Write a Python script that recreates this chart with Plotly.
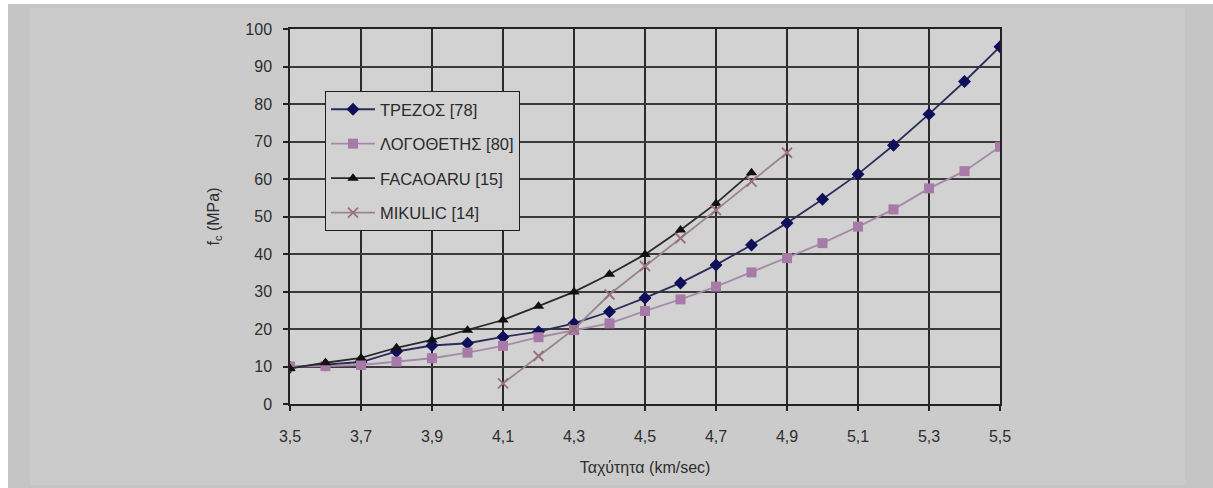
import plotly.graph_objects as go

# ---- data ----
x_trezos = [3.5, 3.6, 3.7, 3.8, 3.9, 4.0, 4.1, 4.2, 4.3, 4.4, 4.5, 4.6, 4.7, 4.8, 4.9, 5.0, 5.1, 5.2, 5.3, 5.4, 5.5]
y_trezos = [9.8, 10.5, 11.2, 14.0, 15.6, 16.2, 17.9, 19.3, 21.5, 24.6, 28.3, 32.3, 37.1, 42.4, 48.3, 54.6, 61.3, 69.0, 77.3, 86.0, 95.3]

x_logo = [3.5, 3.6, 3.7, 3.8, 3.9, 4.0, 4.1, 4.2, 4.3, 4.4, 4.5, 4.6, 4.7, 4.8, 4.9, 5.0, 5.1, 5.2, 5.3, 5.4, 5.5]
y_logo = [10.0, 10.1, 10.4, 11.3, 12.2, 13.7, 15.5, 17.8, 19.7, 21.5, 24.8, 27.9, 31.3, 35.1, 38.9, 42.9, 47.3, 51.9, 57.5, 62.1, 68.6]

x_faca = [3.5, 3.6, 3.7, 3.8, 3.9, 4.0, 4.1, 4.2, 4.3, 4.4, 4.5, 4.6, 4.7, 4.8]
y_faca = [9.5, 11.0, 12.3, 15.0, 17.1, 19.7, 22.4, 26.1, 29.9, 34.6, 39.9, 46.4, 53.5, 61.7]

x_miku = [4.1, 4.2, 4.3, 4.4, 4.5, 4.6, 4.7, 4.8, 4.9]
y_miku = [5.5, 12.8, 20.0, 29.2, 36.8, 44.2, 51.7, 59.3, 67.0]

names = ["ΤΡΕΖΟΣ [78]", "ΛΟΓΟΘΕΤΗΣ [80]", "FACAOARU [15]", "MIKULIC [14]"]

x_tickvals = [3.5, 3.7, 3.9, 4.1, 4.3, 4.5, 4.7, 4.9, 5.1, 5.3, 5.5]
x_ticktext = ["3,5", "3,7", "3,9", "4,1", "4,3", "4,5", "4,7", "4,9", "5,1", "5,3", "5,5"]
y_tickvals = [0, 10, 20, 30, 40, 50, 60, 70, 80, 90, 100]

FONT = "Liberation Sans, Arial, sans-serif"

fig = go.Figure()
series = [
    (x_trezos, y_trezos, names[0], "#2c2c58", "#10105a", "diamond", 10),
    (x_logo, y_logo, names[1], "#a58aa8", "#a87aa8", "square", 10),
    (x_faca, y_faca, names[2], "#2a2a2a", "#101010", "triangle-up", 10),
    (x_miku, y_miku, names[3], "#9a8490", "#98707e", "x-thin-open", 10),
]
for i, (xs, ys, nm, lc, mc, sym, sz) in enumerate(series):
    marker = dict(symbol=sym, size=sz, color=mc)
    if sym == "x-thin-open":
        marker["line"] = dict(color=mc, width=1.8)
    fig.add_trace(go.Scatter(
        x=xs, y=ys, name=nm, mode="lines+markers",
        line=dict(color=lc, width=1.8),
        marker=marker, legendgroup=f"g{i}",
    ))

# plot area in pixels: x 290..1000, y 29..404
L, R, T, B = 290, 213, 29, 84
W, H = 1213, 488
pw, ph = W - L - R, H - T - B

def px2x(px):
    return (px - L) / pw

def py2y(py):
    return (H - B - py) / ph

shapes = [
    dict(type="rect", xref="paper", yref="paper", layer="below",
         x0=px2x(0), x1=px2x(W), y0=py2y(H), y1=py2y(0),
         fillcolor="#ffffff", line=dict(width=0)),
    dict(type="rect", xref="paper", yref="paper", layer="below",
         x0=px2x(8), x1=px2x(W), y0=py2y(H), y1=py2y(4),
         fillcolor="#c5c5c5", line=dict(width=0)),
    dict(type="rect", xref="paper", yref="paper", layer="below",
         x0=px2x(30), x1=px2x(1185), y0=py2y(485), y1=py2y(8),
         fillcolor="#cbcbcb", line=dict(width=0)),
    dict(type="rect", xref="paper", yref="paper", layer="below",
         x0=0, x1=1, y0=0, y1=1,
         fillcolor="#d2d2d2", line=dict(width=0)),
]

fig.update_layout(
    width=W, height=H,
    margin=dict(l=L, r=R, t=T, b=B, pad=0),
    paper_bgcolor="#ffffff",
    plot_bgcolor="rgba(0,0,0,0)",
    font=dict(family=FONT, size=16, color="#2e2e2e"),
    shapes=shapes,
    showlegend=True,
    legend=dict(
        x=px2x(325), y=py2y(91), xanchor="left", yanchor="top",
        bgcolor="#d2d2d2", bordercolor="#1e1e1e", borderwidth=1,
        font=dict(family=FONT, size=16.5, color="#2a2a2a"),
        traceorder="grouped", tracegroupgap=10, itemwidth=44,
    ),
)
fig.update_xaxes(
    range=[3.5, 5.5], tickvals=x_tickvals, ticktext=x_ticktext,
    showgrid=True, gridcolor="#2a2a2a", gridwidth=1.5,
    showline=True, mirror=True, linecolor="#222222", linewidth=1.5,
    ticks="outside", ticklen=5, tickcolor="#222222", tickwidth=1.5,
    ticklabelstandoff=12, zeroline=False,
    title=dict(text="Ταχύτητα (km/sec)", font=dict(size=16, color="#2e2e2e"), standoff=18),
)
fig.update_yaxes(
    range=[0, 100], tickvals=y_tickvals,
    showgrid=True, gridcolor="#3a3a3a", gridwidth=1.5,
    showline=True, mirror=True, linecolor="#222222", linewidth=1.5,
    ticks="outside", ticklen=5, tickcolor="#222222", tickwidth=1.5,
    ticklabelstandoff=8, zeroline=False,
    title=dict(text="f<sub>c</sub> (MPa)", font=dict(size=16, color="#2e2e2e"), standoff=22),
)

fig.write_html("out.html")
